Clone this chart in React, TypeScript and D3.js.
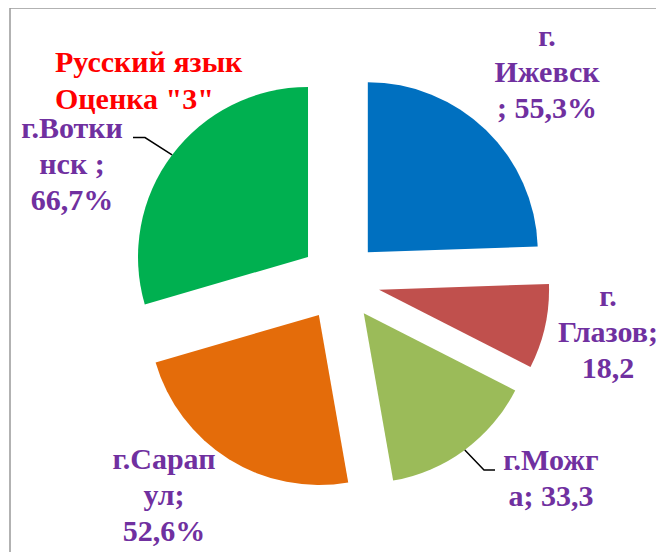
import * as d3 from 'd3';

const cities = ['г. Ижевск', 'г. Глазов', 'г. Можга', 'г. Сарапул', 'г. Воткинск'];
const values = [55.3, 18.2, 33.3, 52.6, 66.7];
const labelLines = [
  ['г.', 'Ижевск', '; 55,3%'],
  ['г.', 'Глазов;', '18,2'],
  ['г.Можг', 'а; 33,3'],
  ['г.Сарап', 'ул;', '52,6%'],
  ['г.Вотки', 'нск ;', '66,7%'],
];
const colors = ['#0070C0', '#C0504D', '#9BBB59', '#E46C0A', '#00B050'];
const titleLines = ['Русский язык', 'Оценка "3"'];

// layout
const W = 664;
const H = 552;
const cx = 340;
const cy = 281;
const R = 170;
const explode = 40;
const lineH = 36;
const labelPos = [
  { x: 547, y: 46 },
  { x: 608, y: 306 },
  { x: 551, y: 470 },
  { x: 164, y: 469 },
  { x: 72, y: 138 },
];
// leader lines: elbow + end (only for some labels)
const leaders: Record<number, number[][]> = {
  2: [[484, 470], [495, 470]],
  4: [[145, 137.5], [133, 137.5]],
};

const fontStyle = {
  fontFamily: '"Liberation Serif", "Times New Roman", "Noto Serif", serif',
  fontWeight: 'bold',
  fontSize: '30px',
};

function App() {
  const pie = d3.pie<number>().sort(null).value((d) => d);
  const arcs = pie(values);
  const arc = d3.arc<d3.PieArcDatum<number>>().innerRadius(0).outerRadius(R);

  const offset = (a: d3.PieArcDatum<number>) => {
    const mid = (a.startAngle + a.endAngle) / 2;
    return [explode * Math.sin(mid), -explode * Math.cos(mid)];
  };

  return (
    <svg width={W} height={H} lang="ru" style={{ display: 'block', margin: '-8px 0 0 -8px' }}>
      <rect x={10} y={8} width={W + 20} height={H + 20} fill="#fff" stroke="#999" strokeWidth={1.5} />
      <g transform={`translate(${cx},${cy})`}>
        {arcs.map((a, i) => {
          const [dx, dy] = offset(a);
          return (
            <path
              key={cities[i]}
              d={arc(a) || ''}
              fill={colors[i]}
              transform={`translate(${dx},${dy})`}
            />
          );
        })}
      </g>
      {arcs.map((a, i) => {
        const pts = leaders[i];
        if (!pts) return null;
        const [dx, dy] = offset(a);
        const mid = (a.startAngle + a.endAngle) / 2;
        const sx = cx + dx + R * Math.sin(mid);
        const sy = cy + dy - R * Math.cos(mid);
        const line = d3.line()([[sx, sy], ...pts] as [number, number][]);
        return <path key={`l${i}`} d={line || ''} fill="none" stroke="#000" strokeWidth={1.5} />;
      })}
      {titleLines.map((t, j) => (
        <text key={t} x={55} y={72 + j * 37} fill="#FF0000" style={fontStyle}>
          {t}
        </text>
      ))}
      {labelLines.map((lines, i) => lines.map((l, j) => (
        <text
          key={`${i}-${j}`}
          x={labelPos[i].x}
          y={labelPos[i].y + j * lineH}
          fill="#7030A0"
          textAnchor="middle"
          style={fontStyle}
        >
          {l}
        </text>
      )))}
    </svg>
  );
}

export default App;
